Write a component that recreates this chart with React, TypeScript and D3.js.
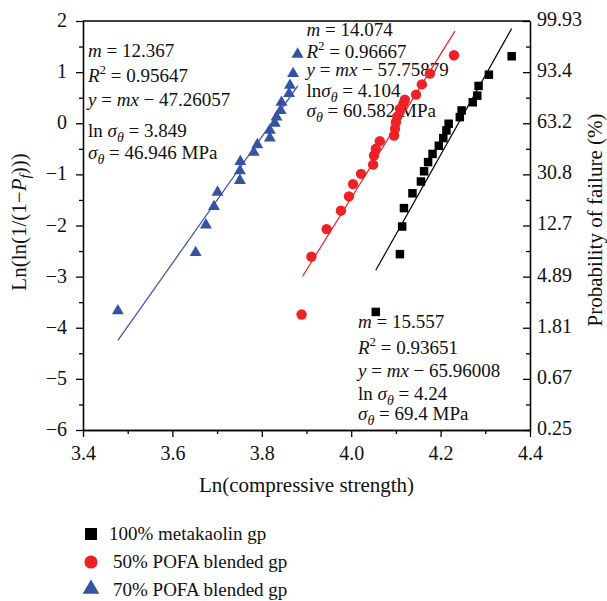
import { useEffect, useRef } from "react";
import * as d3 from "d3";

const W = 607;
const H = 601;
const FONT = "'Liberation Serif', 'Times New Roman', serif";

// ln(compressive strength) / ln(ln(1/(1-Pf)))
const blackX = [4.055, 4.109, 4.114, 4.118, 4.137, 4.156, 4.163, 4.172, 4.182, 4.196, 4.206, 4.213, 4.218, 4.243, 4.247, 4.272, 4.282, 4.285, 4.308, 4.359];
const blackY = [-3.69, -2.56, -2.02, -1.66, -1.37, -1.14, -0.94, -0.76, -0.6, -0.44, -0.29, -0.14, -0.01, 0.12, 0.25, 0.41, 0.54, 0.73, 0.95, 1.31];

const redX = [3.889, 3.911, 3.945, 3.977, 3.995, 4.004, 4.022, 4.049, 4.051, 4.055, 4.064, 4.096, 4.098, 4.1, 4.103, 4.109, 4.117, 4.12, 4.145, 4.158, 4.176, 4.23];
const redY = [-3.74, -2.61, -2.07, -1.71, -1.43, -1.19, -0.99, -0.81, -0.63, -0.5, -0.35, -0.24, -0.11, 0.02, 0.13, 0.28, 0.39, 0.46, 0.56, 0.76, 0.97, 1.33];

const blueX = [3.478, 3.652, 3.675, 3.693, 3.701, 3.751, 3.751, 3.752, 3.782, 3.79, 3.818, 3.818, 3.829, 3.833, 3.842, 3.844, 3.861, 3.863, 3.87, 3.88];
const blueY = [-3.67, -2.53, -1.99, -1.63, -1.35, -1.12, -0.93, -0.75, -0.57, -0.42, -0.29, -0.14, 0.0, 0.12, 0.25, 0.41, 0.58, 0.74, 0.97, 1.35];

// fitted lines y = m x + b
const fitSlope = [15.557, 14.074, 12.367];
const fitIntercept = [-65.96008, -57.75879, -47.26057];
const fitFrom = [4.055, 3.891, 3.478];
const fitTo = [4.359, 4.232, 3.881];

const seriesNames = ["100% metakaolin gp", "50% POFA blended gp", "70% POFA blended gp"];
const seriesColors = ["#000000", "#ec2227", "#3553a3"];
const mText = ["15.557", "14.074", "12.367"];
const r2Text = ["0.93651", "0.96667", "0.95647"];
const interceptText = ["65.96008", "57.75879", "47.26057"];
const lnSigmaText = ["4.24", "4.104", "3.849"];
const sigmaText = ["69.4", "60.582", "46.946"];

const xTicks = [3.4, 3.6, 3.8, 4.0, 4.2, 4.4];
const xMinor = [3.5, 3.7, 3.9, 4.1, 4.3];
const yTicks = [-6, -5, -4, -3, -2, -1, 0, 1, 2];
const yMinor = [-5.5, -4.5, -3.5, -2.5, -1.5, -0.5, 0.5, 1.5];
const probLabels = ["0.25", "0.67", "1.81", "4.89", "12.7", "30.8", "63.2", "93.4", "99.93"];

// annotation blocks: left x and the five baselines (px)
const noteX = [358, 306.5, 88];
const noteBase = [
	[328, 354, 377, 400, 420],
	[36, 58, 76, 96.5, 116.5],
	[56.5, 81.5, 106, 136.5, 159],
];

const App = () => {
	const svgRef = useRef(null);

	useEffect(() => {
		const x0 = 83;
		const x1 = 530;
		const yTop = 21;
		const yBot = 430;

		const x = d3.scaleLinear().domain([3.4, 4.4]).range([x0, x1]);
		const y = d3.scaleLinear().domain([-6, 2]).range([yBot, yTop]);

		const svg = d3.select(svgRef.current);
		svg.selectAll("*").remove();

		const styleAxis = (g, size) => {
			g.attr("font-family", FONT).attr("font-size", size);
			g.selectAll("path, line").attr("stroke", "#000").attr("stroke-width", 1.3);
			g.selectAll("text").attr("fill", "#111");
		};

		// left axis
		svg.append("g")
			.attr("transform", `translate(${x0},0)`)
			.call(d3.axisLeft(y).tickValues(yTicks).tickSize(7).tickSizeOuter(0).tickPadding(9).tickFormat(d3.format("d")))
			.call((g) => styleAxis(g, 20))
			.call((g) => g.selectAll("text").attr("dy", "0.28em"));
		svg.append("g")
			.attr("transform", `translate(${x0},0)`)
			.call(d3.axisLeft(y).tickValues(yMinor).tickSize(4).tickSizeOuter(0).tickFormat(() => ""))
			.call((g) => styleAxis(g, 20));

		// right axis (probability)
		svg.append("g")
			.attr("transform", `translate(${x1},0)`)
			.call(d3.axisRight(y).tickValues(yTicks).tickSizeInner(-7).tickSizeOuter(0).tickPadding(7).tickFormat((d, i) => probLabels[i]))
			.call((g) => styleAxis(g, 20))
			.call((g) => g.selectAll("text").attr("dy", "0.22em"));
		svg.append("g")
			.attr("transform", `translate(${x1},0)`)
			.call(d3.axisRight(y).tickValues(yMinor).tickSizeInner(-4).tickSizeOuter(0).tickFormat(() => ""))
			.call((g) => styleAxis(g, 20));

		// bottom axis
		svg.append("g")
			.attr("transform", `translate(0,${yBot})`)
			.call(d3.axisBottom(x).tickValues(xTicks).tickSize(7).tickSizeOuter(0).tickPadding(9).tickFormat(d3.format(".1f")))
			.call((g) => styleAxis(g, 20));
		svg.append("g")
			.attr("transform", `translate(0,${yBot})`)
			.call(d3.axisBottom(x).tickValues(xMinor).tickSize(4).tickSizeOuter(0).tickFormat(() => ""))
			.call((g) => styleAxis(g, 20));

		// top frame
		svg.append("line")
			.attr("x1", x0).attr("x2", x1)
			.attr("y1", yTop).attr("y2", yTop)
			.attr("stroke", "#000").attr("stroke-width", 1.3);

		// axis titles
		svg.append("text")
			.attr("x", (x0 + x1) / 2)
			.attr("y", 492)
			.attr("text-anchor", "middle")
			.attr("font-family", FONT)
			.attr("font-size", 21)
			.attr("fill", "#111")
			.text("Ln(compressive strength)");

		const yTitle = svg.append("text")
			.attr("transform", "translate(26,222) rotate(-90)")
			.attr("text-anchor", "middle")
			.attr("font-family", FONT)
			.attr("font-size", 21)
			.attr("fill", "#111");
		yTitle.append("tspan").text("Ln(ln(1/(1\u2212");
		yTitle.append("tspan").attr("font-style", "italic").text("P");
		yTitle.append("tspan").attr("font-style", "italic").attr("font-size", 15).attr("dy", 4).text("f");
		yTitle.append("tspan").attr("dy", -4).text(")))");

		svg.append("text")
			.attr("transform", "translate(602,220) rotate(-90)")
			.attr("text-anchor", "middle")
			.attr("font-family", FONT)
			.attr("font-size", 21)
			.attr("fill", "#111")
			.text("Probability of failure (%)");

		// annotations
		seriesNames.forEach((_, i) => {
			const g = svg.append("g")
				.attr("font-family", FONT)
				.attr("font-size", 19)
				.attr("fill", "#111")
				.style("white-space", "pre");
			const bx = noteX[i];
			const b = noteBase[i];

			const t1 = g.append("text").attr("x", bx).attr("y", b[0]);
			t1.append("tspan").attr("font-style", "italic").text("m");
			t1.append("tspan").text(` = ${mText[i]}`);

			const t2 = g.append("text").attr("x", bx).attr("y", b[1]);
			t2.append("tspan").attr("font-style", "italic").text("R");
			t2.append("tspan").attr("font-size", 13).attr("dy", -8).text("2");
			t2.append("tspan").attr("dy", 8).text(` = ${r2Text[i]}`);

			const t3 = g.append("text").attr("x", bx).attr("y", b[2]);
			t3.append("tspan").attr("font-style", "italic").text("y");
			t3.append("tspan").text(" = ");
			t3.append("tspan").attr("font-style", "italic").text("mx");
			t3.append("tspan").text(` \u2212 ${interceptText[i]}`);

			const t4 = g.append("text").attr("x", bx).attr("y", b[3]);
			t4.append("tspan").text(i === 1 ? "ln" : "ln ");
			t4.append("tspan").attr("font-style", "italic").text("\u03c3");
			t4.append("tspan").attr("font-style", "italic").attr("font-size", 14).attr("dy", 5).text("\u03b8");
			t4.append("tspan").attr("dy", -5).text(` = ${lnSigmaText[i]}`);

			const t5 = g.append("text").attr("x", bx).attr("y", b[4]);
			t5.append("tspan").attr("font-style", "italic").text("\u03c3");
			t5.append("tspan").attr("font-style", "italic").attr("font-size", 14).attr("dy", 5).text("\u03b8");
			t5.append("tspan").attr("dy", -5).text(` = ${sigmaText[i]} MPa`);
		});

		// fitted lines
		const line = d3.line().x((d) => x(d[0])).y((d) => y(d[1]));
		seriesNames.forEach((_, i) => {
			const pts = [fitFrom[i], fitTo[i]].map((v) => [v, fitSlope[i] * v + fitIntercept[i]]);
			svg.append("path")
				.attr("d", line(pts))
				.attr("fill", "none")
				.attr("stroke", seriesColors[i])
				.attr("stroke-width", 1.2);
		});

		// points
		const symbols = [d3.symbolSquare, d3.symbolCircle, d3.symbolTriangle];
		const sizes = [72, 85, 62];
		const xs = [blackX, redX, blueX];
		const ys = [blackY, redY, blueY];
		seriesNames.forEach((_, i) => {
			const data = xs[i].map((v, j) => [v, ys[i][j]]);
			svg.append("g")
				.selectAll("path")
				.data(data)
				.enter()
				.append("path")
				.attr("transform", (d) => `translate(${x(d[0])},${y(d[1])})`)
				.attr("d", d3.symbol().type(symbols[i]).size(sizes[i]))
				.attr("fill", seriesColors[i]);
		});

		// legend
		const legendSizes = [144, 135, 120];
		const legendY = [534, 562, 589];
		const legendTextX = [109, 113, 113];
		const legendBase = [540, 568, 596];
		seriesNames.forEach((name, i) => {
			svg.append("path")
				.attr("transform", `translate(91,${legendY[i]})`)
				.attr("d", d3.symbol().type(symbols[i]).size(legendSizes[i]))
				.attr("fill", seriesColors[i]);
			svg.append("text")
				.attr("x", legendTextX[i])
				.attr("y", legendBase[i])
				.attr("font-family", FONT)
				.attr("font-size", 19)
				.attr("fill", "#111")
				.text(name);
		});
	}, []);

	return (
		<svg
			ref={svgRef}
			width={W}
			height={H}
			style={{ position: "absolute", left: 0, top: 0, background: "#fff" }}
		></svg>
	);
};

export default App;
